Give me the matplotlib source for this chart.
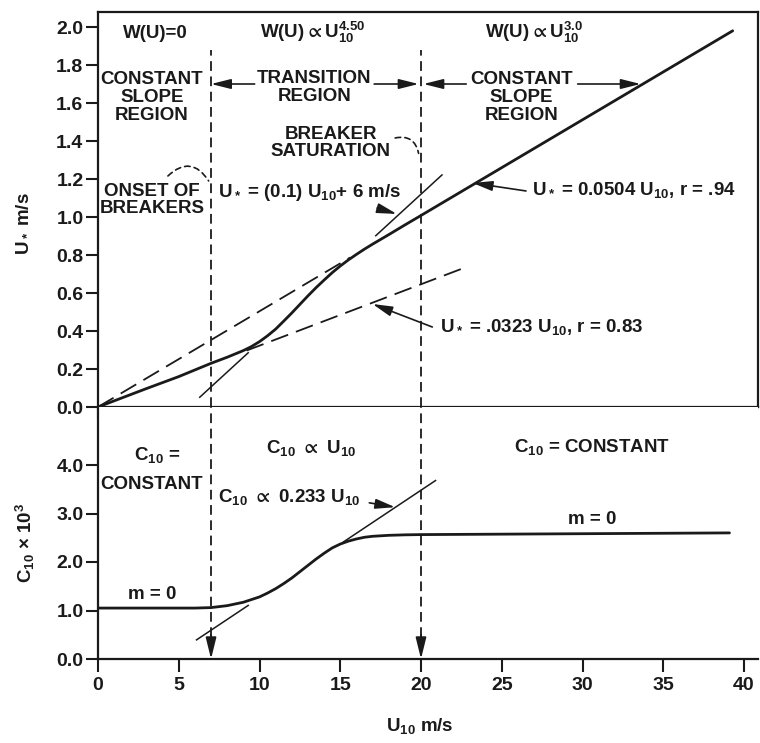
import matplotlib
matplotlib.use("Agg")
import matplotlib.pyplot as plt
import numpy as np

plt.rcParams['font.family'] = ['Liberation Sans', 'DejaVu Sans']
plt.rcParams['font.weight'] = 'bold'
plt.rcParams['mathtext.fontset'] = 'custom'
plt.rcParams['mathtext.rm'] = 'Liberation Sans:bold'
plt.rcParams['mathtext.it'] = 'Liberation Sans:bold'
plt.rcParams['mathtext.bf'] = 'Liberation Sans:bold'
plt.rcParams['mathtext.default'] = 'rm'
plt.rcParams['mathtext.fallback'] = 'stixsans'
plt.rcParams['lines.scale_dashes'] = False

# ---------------- data ----------------
u10_ustar = [0, 3, 5, 7, 8, 9, 9.5, 10, 10.5, 11, 11.5, 12, 12.5, 13, 13.5, 14,
             14.5, 15, 15.5, 16, 16.5, 17, 18, 19, 20, 39.3]
ustar = [0, 0.097, 0.16, 0.23, 0.262, 0.297, 0.318, 0.344, 0.375, 0.41, 0.452,
         0.495, 0.54, 0.585, 0.628, 0.668, 0.707, 0.742, 0.774, 0.803, 0.831,
         0.857, 0.907, 0.958, 1.008, 1.98]

fit_high_slope = 0.0504
fit_high_range = [0, 15.6]
fit_low_slope = 0.0323
fit_low_range = [9.2, 22.6]
tan_u_slope = 0.078
tan_u_intercept = -0.44
tan_u_ranges = [[6.3, 9.3], [17.2, 21.3]]

u10_c10 = [0, 6, 7, 8, 9, 10, 10.5, 11, 11.5, 12, 12.5, 13, 13.5, 14, 14.5, 15,
           15.5, 16, 16.5, 17, 18, 19, 20, 39.1]
c10 = [1.05, 1.05, 1.06, 1.10, 1.17, 1.28, 1.36, 1.45, 1.555, 1.67, 1.80, 1.93,
       2.06, 2.18, 2.29, 2.37, 2.43, 2.475, 2.51, 2.53, 2.55, 2.56, 2.565, 2.60]
tan_c_slope = 0.222
tan_c_intercept = -0.96
tan_c_ranges = [[6.1, 9.3], [15.2, 20.9]]

boundaries = [7, 20]
x_ticks = [0, 5, 10, 15, 20, 25, 30, 35, 40]
ustar_ticks = [0.0, 0.2, 0.4, 0.6, 0.8, 1.0, 1.2, 1.4, 1.6, 1.8, 2.0]
c10_ticks = [0.0, 1.0, 2.0, 3.0, 4.0]

# ---------------- figure ----------------
W, H = 760, 743
fig = plt.figure(figsize=(W / 100, H / 100), dpi=100)
K = '#1a1a1a'
FS = 13.5
TFS = 14

L, R = 98, 758
ax1 = fig.add_axes([L / W, 1 - 407 / H, (R - L) / W, (407 - 12) / H])
ax2 = fig.add_axes([L / W, 1 - 659 / H, (R - L) / W, (659 - 407) / H])

xmax = (R - L) / 16.15
for ax in (ax1, ax2):
    ax.set_xlim(0, xmax)
    for s in ax.spines.values():
        s.set_linewidth(1.6)
        s.set_color(K)
ax1.set_ylim(0, (407 - 12) / 190)
ax2.set_ylim(0, (659 - 407) / 48.5)
ax2.spines['top'].set_visible(False)
ax2.spines['right'].set_visible(False)

ax1.set_xticks(x_ticks)
ax1.set_yticks(ustar_ticks)
ax1.set_yticklabels([f'{v:.1f}' for v in ustar_ticks])
ax1.tick_params(axis='x', direction='out', length=8.5, width=1.5, labelbottom=False, color=K)
ax1.tick_params(axis='y', direction='out', length=8.5, width=1.5, labelsize=TFS, pad=2, colors=K)

ax2.set_xticks(x_ticks)
ax2.set_yticks(c10_ticks)
ax2.set_yticklabels([f'{v:.1f}' for v in c10_ticks])
ax2.tick_params(axis='x', direction='out', length=9, width=1.5, labelsize=TFS, pad=4, colors=K)
ax2.tick_params(axis='y', direction='out', length=8.5, width=1.5, labelsize=TFS, pad=2, colors=K)

# ---------------- curves ----------------
ax1.plot(u10_ustar, ustar, color=K, lw=2.0, solid_capstyle='round', solid_joinstyle='round')
xf = np.array(fit_high_range)
ax1.plot(xf, fit_high_slope * xf, color=K, lw=1.3, dashes=(13, 6))
xf = np.array(fit_low_range)
ax1.plot(xf, fit_low_slope * xf, color=K, lw=1.3, dashes=(13, 6))
for rng in tan_u_ranges:
    xt = np.array(rng)
    ax1.plot(xt, tan_u_slope * xt + tan_u_intercept, color=K, lw=1.1)

ax2.plot(u10_c10, c10, color=K, lw=2.0, solid_capstyle='round', solid_joinstyle='round')
for rng in tan_c_ranges:
    xt = np.array(rng)
    ax2.plot(xt, tan_c_slope * xt + tan_c_intercept, color=K, lw=1.1)

# boundaries
for b in boundaries:
    ax1.plot([b, b], [0, 1.88], color=K, lw=1.3, dashes=(7, 4), clip_on=False)
    ax2.plot([b, b], [0.45, ax2.get_ylim()[1]], color=K, lw=1.3, dashes=(7, 4), clip_on=False)
    ax2.annotate('', xy=(b, 0), xytext=(b, 0.5),
                 arrowprops=dict(arrowstyle='-|>,head_length=1.3,head_width=0.32',
                                 color=K, lw=1.3, shrinkA=0, shrinkB=0, mutation_scale=10))

def arrow(ax, tail, head):
    ax.annotate('', xy=head, xytext=tail,
                arrowprops=dict(arrowstyle='-|>,head_length=1.2,head_width=0.3',
                                color=K, lw=1.2, shrinkA=0, shrinkB=0, mutation_scale=10))

def arc(ax, start, end, rad):
    ax.annotate('', xy=end, xytext=start,
                arrowprops=dict(arrowstyle='-', color=K, lw=1.2, linestyle=(0, (4, 3)),
                                shrinkA=0, shrinkB=0, connectionstyle=f'arc3,rad={rad}'))

P = r'$\propto$'

# ---------------- upper texts ----------------
tk = dict(fontsize=FS, color=K, ha='center', va='center')
ax1.text(3.53, 1.965, 'W(U)=0', **tk)
ax1.text(13.3, 1.94, 'W(U)' + P + 'U$_{10}^{4.50}$', fontsize=FS, color=K, ha='center', va='baseline')
ax1.text(27.0, 1.94, 'W(U)' + P + 'U$_{10}^{3.0}$', fontsize=FS, color=K, ha='center', va='baseline')
ax1.text(3.34, 1.63, 'CONSTANT\nSLOPE\nREGION', linespacing=1.1, **tk)
ax1.text(13.4, 1.68, 'TRANSITION\nREGION', linespacing=1.1, **tk)
ax1.text(26.2, 1.63, 'CONSTANT\nSLOPE\nREGION', linespacing=1.1, **tk)
ax1.text(14.4, 1.39, 'BREAKER\nSATURATION', linespacing=1.0, **tk)
ax1.text(3.34, 1.09, 'ONSET OF\nBREAKERS', linespacing=1.0, **tk)
ax1.text(7.4, 1.13, 'U$_*$ = (0.1) U$_{10}$+ 6 m/s', fontsize=FS, color=K, ha='left', va='center')
ax1.text(26.9, 1.14, 'U$_*$ = 0.0504 U$_{10}$, r = .94', fontsize=FS, color=K, ha='left', va='center')
ax1.text(21.2, 0.42, 'U$_*$ = .0323 U$_{10}$, r = 0.83', fontsize=FS, color=K, ha='left', va='center')

arrow(ax1, (9.7, 1.70), (7.0, 1.70))
arrow(ax1, (17.1, 1.70), (19.85, 1.70))
arrow(ax1, (22.8, 1.70), (20.15, 1.70))
arrow(ax1, (29.7, 1.70), (33.6, 1.70))
arrow(ax1, (17.28, 1.047), (18.5, 1.016))
arrow(ax1, (26.5, 1.137), (23.2, 1.179))
arrow(ax1, (20.7, 0.421), (17.0, 0.542))

arc(ax1, (4.33, 1.216), (6.85, 1.19), -0.6)
arc(ax1, (18.4, 1.416), (19.85, 1.335), -0.5)

# ---------------- lower texts ----------------
ax2.text(3.65, 4.21, 'C$_{10}$ =', **tk)
ax2.text(3.34, 3.59, 'CONSTANT', **tk)
ax2.text(13.2, 4.35, 'C$_{10}$ ' + P + ' U$_{10}$', **tk)
ax2.text(7.45, 3.34, 'C$_{10}$ ' + P + ' 0.233 U$_{10}$', fontsize=FS, color=K, ha='left', va='center')
ax2.text(30.6, 4.37, 'C$_{10}$ = CONSTANT', **tk)
ax2.text(3.34, 1.32, 'm = 0', **tk)
ax2.text(30.6, 2.87, 'm = 0', **tk)
arrow(ax2, (16.8, 3.22), (18.4, 3.13))

# axis labels
fig.text(22 / W, 1 - 224 / H, 'U$_*$ m/s', rotation=90, fontsize=FS, color=K, ha='center', va='center')
fig.text(25 / W, 1 - 543 / H, 'C$_{10}$ \u00d7 10$^3$', rotation=90, fontsize=FS, color=K, ha='center', va='center')
fig.text(420 / W, 1 - 726 / H, 'U$_{10}$ m/s', fontsize=FS, color=K, ha='center', va='center')

fig.savefig('out.png', dpi=100)
